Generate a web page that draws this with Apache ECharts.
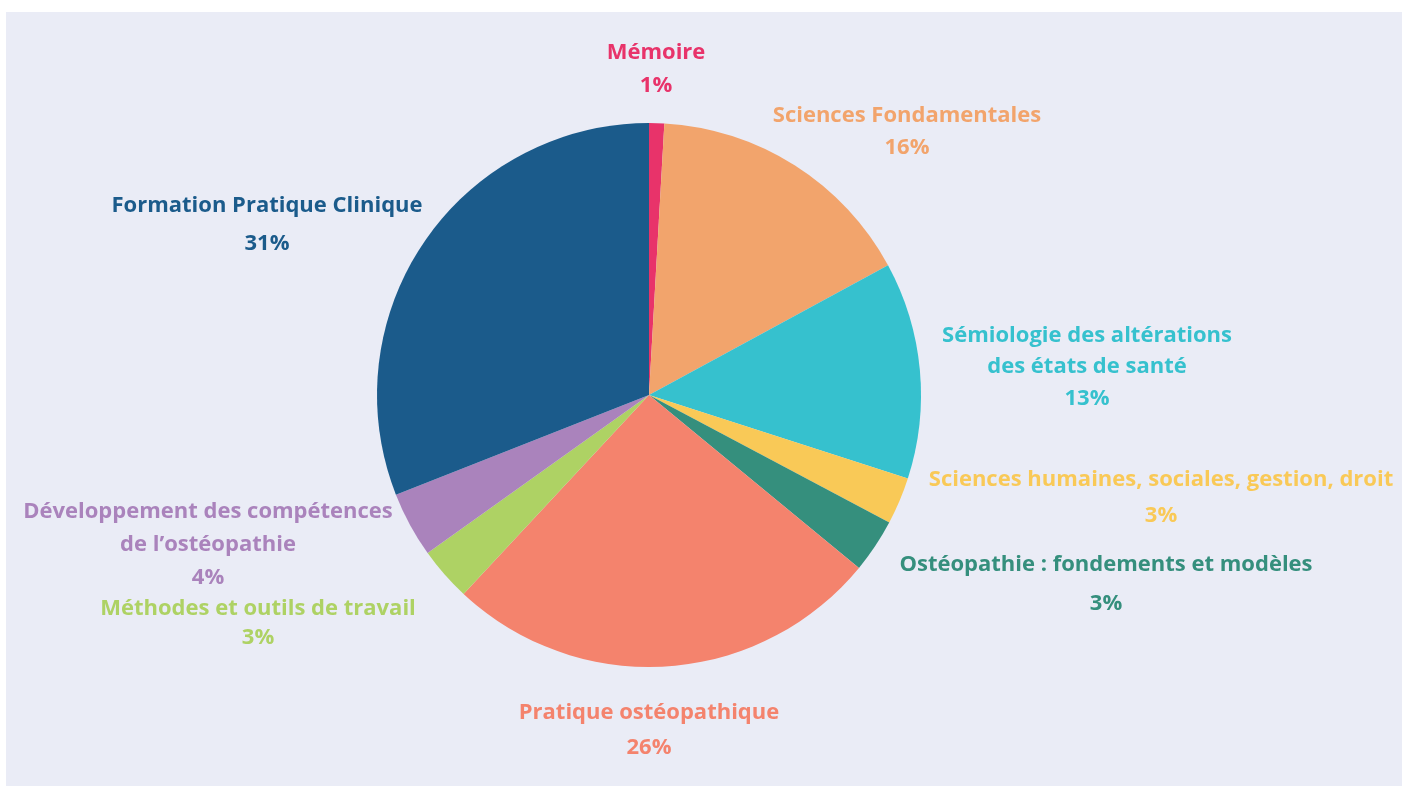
<!DOCTYPE html>
<html>
<head>
<meta charset="utf-8">
<script src="https://cdn.jsdelivr.net/npm/echarts@6/dist/echarts.min.js"></script>
<style>
  html, body { margin: 0; padding: 0; background: #ffffff; }
  #chart { position: absolute; left: 6px; top: 12px; width: 1396px; height: 774px; background: #eaecf6; }
</style>
</head>
<body>
<div id="chart"></div>
<script>
// slices, clockwise from 12 o'clock
const categories = [
  'Mémoire',
  'Sciences Fondamentales',
  'Sémiologie des altérations\ndes états de santé',
  'Sciences humaines, sociales, gestion, droit',
  'Ostéopathie : fondements et modèles',
  'Pratique ostéopathique',
  'Méthodes et outils de travail',
  'Développement des compétences\nde l’ostéopathie',
  'Formation Pratique Clinique'
]
const shares = [0.9, 16.2, 12.9, 2.8, 3.2, 26.0, 3.2, 3.9, 31.0]
const percentLabels = ['1%', '16%', '13%', '3%', '3%', '26%', '3%', '4%', '31%']

const colors = ['#e8336a', '#f2a46c', '#36c1ce', '#f9c957', '#358f7d', '#f4836d', '#aed264', '#aa83bc', '#1b5b8b']

// label anchor (centre of text block, chart coords) and line height
const labelAnchor = [
  [650, 57], [901, 120], [1081, 355], [1155, 486], [1100, 572],
  [643, 718], [252, 611], [202, 533], [261, 213]
]
const labelLineHeight = [33, 32, 31.5, 36, 39, 35, 29, 33, 38]

const chart = echarts.init(document.getElementById('chart'))

const option = {
  backgroundColor: 'transparent',
  animation: false,
  series: [
    {
      type: 'pie',
      center: [643, 383],
      radius: 272,
      startAngle: 90,
      clockwise: true,
      avoidLabelOverlap: false,
      itemStyle: { borderWidth: 0 },
      label: {
        show: true,
        position: 'outside',
        fontFamily: 'Open Sans',
        fontWeight: 'bold',
        fontSize: 22,
        align: 'center',
        formatter: (p) => p.name + '\n' + percentLabels[p.dataIndex]
      },
      labelLine: { show: false },
      labelLayout: (params) => {
        const a = labelAnchor[params.dataIndex]
        return { x: a[0], y: a[1], align: 'center', verticalAlign: 'middle', hideOverlap: false }
      },
      data: categories.map((name, i) => ({
        name: name,
        value: shares[i],
        itemStyle: { color: colors[i] },
        label: { color: colors[i], lineHeight: labelLineHeight[i] }
      }))
    }
  ]
}

chart.setOption(option)
</script>
</body>
</html>
